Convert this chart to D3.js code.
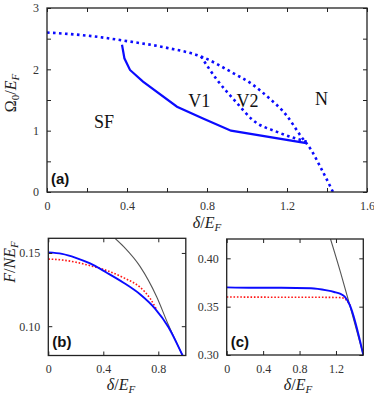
<!DOCTYPE html>
<html>
<head>
<meta charset="utf-8">
<script src="https://cdn.jsdelivr.net/npm/d3@7"></script>
<style>
  body { margin: 0; background: #fff; }
  svg { display: block; }
  .tick text { font-family: "Liberation Serif", serif; font-size: 12px; fill: #333; }
  .tick line { stroke: #222; }
</style>
</head>
<body>
<svg id="fig"></svg>
<script>

// ---- panel (a): phase diagram ----
const upper_delta = [0, 0.2, 0.4, 0.6, 0.77, 0.93, 1.02, 1.1, 1.2, 1.265, 1.32, 1.365, 1.43];
const upper_omega = [2.6, 2.55, 2.46, 2.35, 2.21, 1.94, 1.77, 1.56, 1.24, 0.93, 0.69, 0.42, 0];

const sf_delta = [0.375, 0.387, 0.415, 0.48, 0.65, 0.78, 0.92, 1.29, 1.29];
const sf_omega = [2.4, 2.18, 1.99, 1.8, 1.39, 1.2, 1.0, 0.8, 0.83];

const v12_delta = [0.77, 0.85, 0.95, 1.03, 1.15, 1.3];
const v12_omega = [2.21, 1.83, 1.45, 1.17, 0.98, 0.82];

const phase_labels = [
    {text: "SF", delta: 0.235, omega: 1.04},
    {text: "V1", delta: 0.706, omega: 1.39},
    {text: "V2", delta: 0.948, omega: 1.39},
    {text: "N",  delta: 1.34,  omega: 1.42},
];

// ---- panel (b) ----
const b_blue_delta = [0, 0.1, 0.2, 0.3, 0.425, 0.55, 0.667, 0.776, 0.873, 0.977, 1.0];
const b_blue_F     = [0.1504, 0.1494, 0.1467, 0.1430, 0.1365, 0.1295, 0.1218, 0.1120, 0.0995, 0.0800, 0.0755];
const b_red_delta  = [0, 0.1, 0.2, 0.3, 0.425, 0.55, 0.667, 0.74, 0.785];
const b_red_F      = [0.1458, 0.1452, 0.1437, 0.1414, 0.1380, 0.1330, 0.1266, 0.1190, 0.1118];
const b_gray_delta = [0.485, 0.55, 0.667, 0.788, 0.873, 0.977, 1.0];
const b_gray_F     = [0.1600, 0.1541, 0.1408, 0.1201, 0.1010, 0.0800, 0.0755];

// ---- panel (c) ----
const c_blue_delta = [0, 0.3, 0.6, 0.925, 1.1, 1.18, 1.25, 1.296, 1.35, 1.5];
const c_blue_F     = [0.370, 0.3695, 0.3695, 0.369, 0.3668, 0.3652, 0.3632, 0.3605, 0.352, 0.300];
const c_red_delta  = [0, 0.5, 1.0, 1.25, 1.3, 1.33, 1.36];
const c_red_F      = [0.360, 0.3598, 0.3597, 0.3594, 0.358, 0.355, 0.3505];
const c_gray_delta = [1.14, 1.25, 1.35, 1.5];
const c_gray_F     = [0.420, 0.3855, 0.352, 0.300];

const BLUE = "#0b0bff", RED = "#ff1515", GRAY = "#555";

const zip = (xs, ys) => xs.map((x, i) => [x, ys[i]]);

class Panel {
    constructor(config) {
        this.config = {
            parent : config.parent,
            left   : config.left,
            top    : config.top,
            width  : config.width,
            height : config.height,
            xdomain: config.xdomain,
            ydomain: config.ydomain,
            xticks : config.xticks,
            yticks : config.yticks,
            xfmt   : config.xfmt,
            yfmt   : config.yfmt,
            tag    : config.tag,
        };
        this.init();
    }

    init() {
        let self = this;
        let c = self.config;

        self.x = d3.scaleLinear().domain(c.xdomain).range([0, c.width]);
        self.y = d3.scaleLinear().domain(c.ydomain).range([c.height, 0]);

        self.chart = c.parent.append('g')
            .attr('transform', `translate(${c.left}, ${c.top})`);

        let id = 'clip-' + c.tag;
        self.chart.append('clipPath').attr('id', id)
            .append('rect').attr('width', c.width).attr('height', c.height);
        self.plot = self.chart.append('g').attr('clip-path', `url(#${id})`);

        // axes, ticks pointing inward
        let fx = (d, i) => c.xfmt(d, i);
        let fy = (d, i) => c.yfmt(d, i);
        self.chart.append('g')
            .attr('transform', `translate(0, ${c.height})`)
            .call(d3.axisBottom(self.x).tickValues(c.xticks).tickSize(-4).tickPadding(9).tickFormat(fx));
        self.chart.append('g')
            .call(d3.axisTop(self.x).tickValues(c.xticks).tickSize(-4).tickFormat(''));
        self.chart.append('g')
            .call(d3.axisLeft(self.y).tickValues(c.yticks).tickSize(-4).tickPadding(8).tickFormat(fy));
        self.chart.append('g')
            .attr('transform', `translate(${c.width}, 0)`)
            .call(d3.axisRight(self.y).tickValues(c.yticks).tickSize(-4).tickFormat(''));
        self.chart.selectAll('.domain').remove();

        self.chart.append('rect')
            .attr('width', c.width).attr('height', c.height)
            .attr('fill', 'none').attr('stroke', '#222').attr('stroke-width', 1.3);

        self.chart.append('text')
            .attr('x', 4).attr('y', c.height - 8)
            .style('font-family', '"Liberation Sans", Arial, sans-serif')
            .style('font-weight', 'bold').style('font-size', '15px')
            .attr('fill', '#111')
            .text(`(${c.tag})`);
    }

    line(points, style, curve) {
        let self = this;
        let gen = d3.line()
            .x(d => self.x(d[0]))
            .y(d => self.y(d[1]))
            .curve(curve || d3.curveLinear);
        self.plot.append('path')
            .datum(points)
            .attr('d', gen)
            .attr('fill', 'none')
            .attr('stroke', style.color)
            .attr('stroke-width', style.width)
            .attr('stroke-dasharray', style.dash || null)
            .attr('stroke-linecap', style.cap || 'butt');
    }
}

const svg = d3.select('#fig').attr('width', 374).attr('height', 395);

function xlabel(x, y) {
    let t = svg.append('text').attr('x', x).attr('y', y)
        .attr('text-anchor', 'middle')
        .style('font-family', '"Liberation Serif", serif').style('font-size', '16px')
        .attr('fill', '#222');
    t.append('tspan').style('font-style', 'italic').text('δ');
    t.append('tspan').text('/');
    t.append('tspan').style('font-style', 'italic').text('E');
    t.append('tspan').style('font-style', 'italic').style('font-size', '11px').attr('dy', 3).text('F');
}

function ylabel(x, y, parts) {
    let t = svg.append('text')
        .attr('transform', `translate(${x}, ${y}) rotate(-90)`)
        .attr('text-anchor', 'middle')
        .style('font-family', '"Liberation Serif", serif').style('font-size', '16px')
        .attr('fill', '#222');
    parts.forEach(p => {
        let s = t.append('tspan').text(p.text);
        if (p.italic) s.style('font-style', 'italic');
        if (p.sub) s.style('font-size', '11px').attr('dy', 3);
        if (p.up) s.attr('dy', -3);
    });
}

// panel (a)
const xa_ticks = d3.range(0, 9).map(i => i * 0.2);
const ya_ticks = d3.range(0, 7).map(i => i * 0.5);
const pa = new Panel({
    parent: svg, tag: 'a',
    left: 47, top: 8, width: 320, height: 184,
    xdomain: [0, 1.6], ydomain: [0, 3],
    xticks: xa_ticks, yticks: ya_ticks,
    xfmt: (d, i) => i % 2 == 0 ? d3.format('')(+(d.toFixed(1))) : '',
    yfmt: (d, i) => i % 2 == 0 ? String(d) : '',
});
const dotBig = {color: BLUE, width: 2.6, dash: '2.6,3.4'};
pa.line(zip(upper_delta, upper_omega), dotBig, d3.curveMonotoneX);
pa.line(zip(v12_delta, v12_omega), dotBig, d3.curveMonotoneX);
pa.line(zip(sf_delta, sf_omega), {color: BLUE, width: 2.2});

pa.chart.selectAll('.phase')
    .data(phase_labels)
    .enter()
    .append('text')
    .attr('class', 'phase')
    .attr('x', d => pa.x(d.delta))
    .attr('y', d => pa.y(d.omega))
    .style('font-family', '"Liberation Serif", serif').style('font-size', '18px')
    .attr('fill', '#111')
    .text(d => d.text);

xlabel(207, 228);
ylabel(16, 93, [
    {text: 'Ω'}, {text: '0', sub: true}, {text: '/', up: true},
    {text: 'E', italic: true}, {text: 'F', italic: true, sub: true},
]);

// panel (b)
const pb = new Panel({
    parent: svg, tag: 'b',
    left: 48.3, top: 238.3, width: 137.5, height: 117.2,
    xdomain: [0, 1.0], ydomain: [0.08, 0.16],
    xticks: [0, 0.4, 0.8], yticks: [0.10, 0.15],
    xfmt: d => String(d), yfmt: d => d3.format('.2f')(d),
});
pb.line(zip(b_gray_delta, b_gray_F), {color: GRAY, width: 1.1}, d3.curveMonotoneX);
pb.line(zip(b_red_delta, b_red_F), {color: RED, width: 1.6, dash: '1.6,1.8'}, d3.curveMonotoneX);
pb.line(zip(b_blue_delta, b_blue_F), {color: BLUE, width: 1.9}, d3.curveMonotoneX);

// panel (c)
const pc = new Panel({
    parent: svg, tag: 'c',
    left: 226.7, top: 239, width: 136.6, height: 116,
    xdomain: [0, 1.5], ydomain: [0.30, 0.42],
    xticks: [0, 0.4, 0.8, 1.2], yticks: [0.30, 0.35, 0.40],
    xfmt: d => String(d), yfmt: d => d3.format('.2f')(d),
});
pc.line(zip(c_gray_delta, c_gray_F), {color: GRAY, width: 1.1}, d3.curveMonotoneX);
pc.line(zip(c_red_delta, c_red_F), {color: RED, width: 1.6, dash: '1.6,1.8'}, d3.curveMonotoneX);
pc.line(zip(c_blue_delta, c_blue_F), {color: BLUE, width: 1.9}, d3.curveMonotoneX);

xlabel(121, 390);
xlabel(298, 390);
ylabel(15, 262, [
    {text: 'F', italic: true}, {text: '/'}, {text: 'N', italic: true},
    {text: 'E', italic: true}, {text: 'F', italic: true, sub: true},
]);
</script>
</body>
</html>
